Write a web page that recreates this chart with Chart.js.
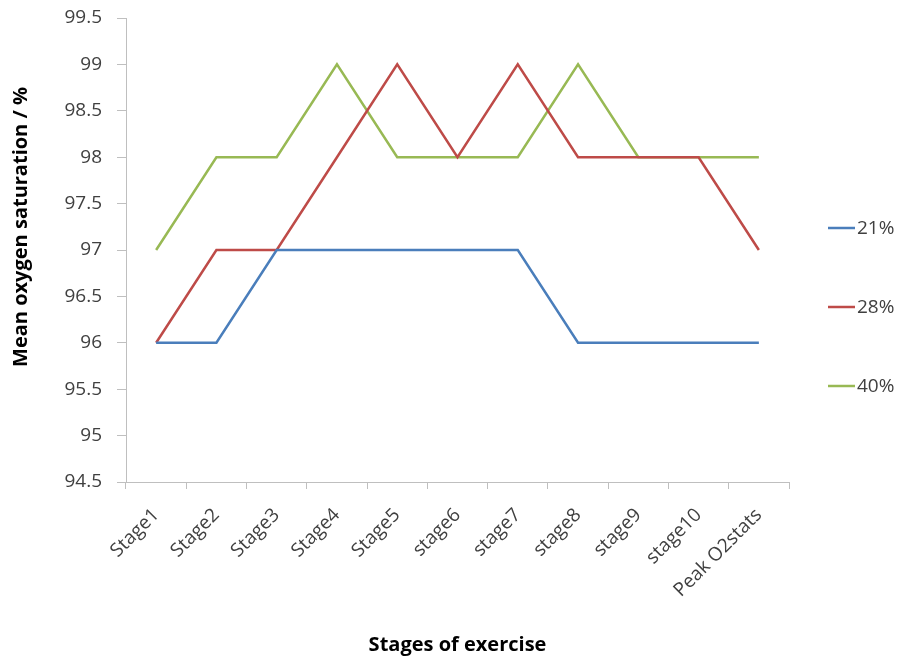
<!DOCTYPE html>
<html>
<head>
<meta charset="utf-8">
<script src="https://cdn.jsdelivr.net/npm/chart.js@4/dist/chart.umd.min.js"></script>
<style>
  html, body { margin: 0; padding: 0; background: #fff; }
  #wrap { width: 901px; height: 659px; }
</style>
</head>
<body>
<div id="wrap"><canvas id="c" width="901" height="659"></canvas></div>
<script>
// Exercise stages along the x axis
const stages = ['Stage1', 'Stage2', 'Stage3', 'Stage4', 'Stage5', 'stage6', 'stage7', 'stage8', 'stage9', 'stage10', 'Peak O2stats'];

// Mean oxygen saturation (%) for each inspired oxygen level
const sat21 = [96, 96, 97, 97, 97, 97, 97, 96, 96, 96, 96];
const sat28 = [96, 97, 97, 98, 99, 98, 99, 98, 98, 98, 97];
const sat40 = [97, 98, 98, 99, 98, 98, 98, 99, 98, 98, 98];

const seriesNames = ['21%', '28%', '40%'];
const seriesColors = ['#4a7ebb', '#be4b48', '#98b954'];

const xTitle = 'Stages of exercise';
const yTitle = 'Mean oxygen saturation / %';

const FONT = '"Open Sans", "Liberation Sans", sans-serif';
const axisGrey = '#bfbfbf';
const textGrey = '#404040';

const datasets = [sat21, sat28, sat40].map((vals, i) => ({
  label: seriesNames[i],
  data: vals,
  borderColor: seriesColors[i],
  backgroundColor: seriesColors[i],
  borderWidth: 2.5,
  pointRadius: 0,
  tension: 0,
  fill: false
}));

// Y axis title (shifted a little above the plot's middle) and a legend on the right
const sideText = {
  id: 'sideText',
  afterDraw(chart) {
    const { ctx, chartArea } = chart;
    ctx.save();
    // y axis title
    ctx.font = 'bold 20px ' + FONT;
    ctx.fillStyle = '#000';
    ctx.textAlign = 'center';
    ctx.textBaseline = 'middle';
    ctx.translate(21, chartArea.top + 209);
    ctx.rotate(-Math.PI / 2);
    ctx.fillText(yTitle, 0, 0);
    ctx.restore();

    // legend
    ctx.save();
    ctx.font = '19px ' + FONT;
    ctx.textAlign = 'left';
    ctx.textBaseline = 'middle';
    chart.data.datasets.forEach((ds, i) => {
      const y = chartArea.top + 210 + i * 79;
      const x0 = chartArea.right + 39;
      ctx.strokeStyle = ds.borderColor;
      ctx.lineWidth = 2.5;
      ctx.beginPath();
      ctx.moveTo(x0, y);
      ctx.lineTo(x0 + 27, y);
      ctx.stroke();
      ctx.fillStyle = textGrey;
      ctx.fillText(ds.label, x0 + 29, y + 1);
    });
    ctx.restore();
  }
};

new Chart(document.getElementById('c'), {
  type: 'line',
  data: { labels: stages, datasets },
  plugins: [sideText],
  options: {
    responsive: false,
    animation: false,
    layout: { padding: { top: 18, right: 112, left: 0, bottom: 0 } },
    plugins: {
      tooltip: { enabled: false },
      legend: { display: false }
    },
    scales: {
      x: {
        offset: true,
        afterFit: s => { s.height = 177; },
        border: { color: axisGrey, width: 1 },
        grid: { offset: true, drawOnChartArea: false, tickLength: 7, color: axisGrey },
        ticks: {
          maxRotation: 45,
          minRotation: 45,
          autoSkip: false,
          color: textGrey,
          font: { family: FONT, size: 19 },
          padding: 15
        },
        title: {
          display: true,
          text: xTitle,
          color: '#000',
          font: { family: FONT, size: 20, weight: 'bold' },
          padding: { top: 0, bottom: 2 }
        }
      },
      y: {
        min: 94.5,
        max: 99.5,
        afterFit: s => { s.width = 126; s.paddingTop = 0; s.paddingBottom = 0; },
        border: { color: axisGrey, width: 1 },
        grid: { drawOnChartArea: false, tickLength: 9, color: axisGrey },
        ticks: {
          stepSize: 0.5,
          color: textGrey,
          font: { family: FONT, size: 19 },
          padding: 15,
          callback: v => String(v)
        }
      }
    }
  }
});
</script>
</body>
</html>
